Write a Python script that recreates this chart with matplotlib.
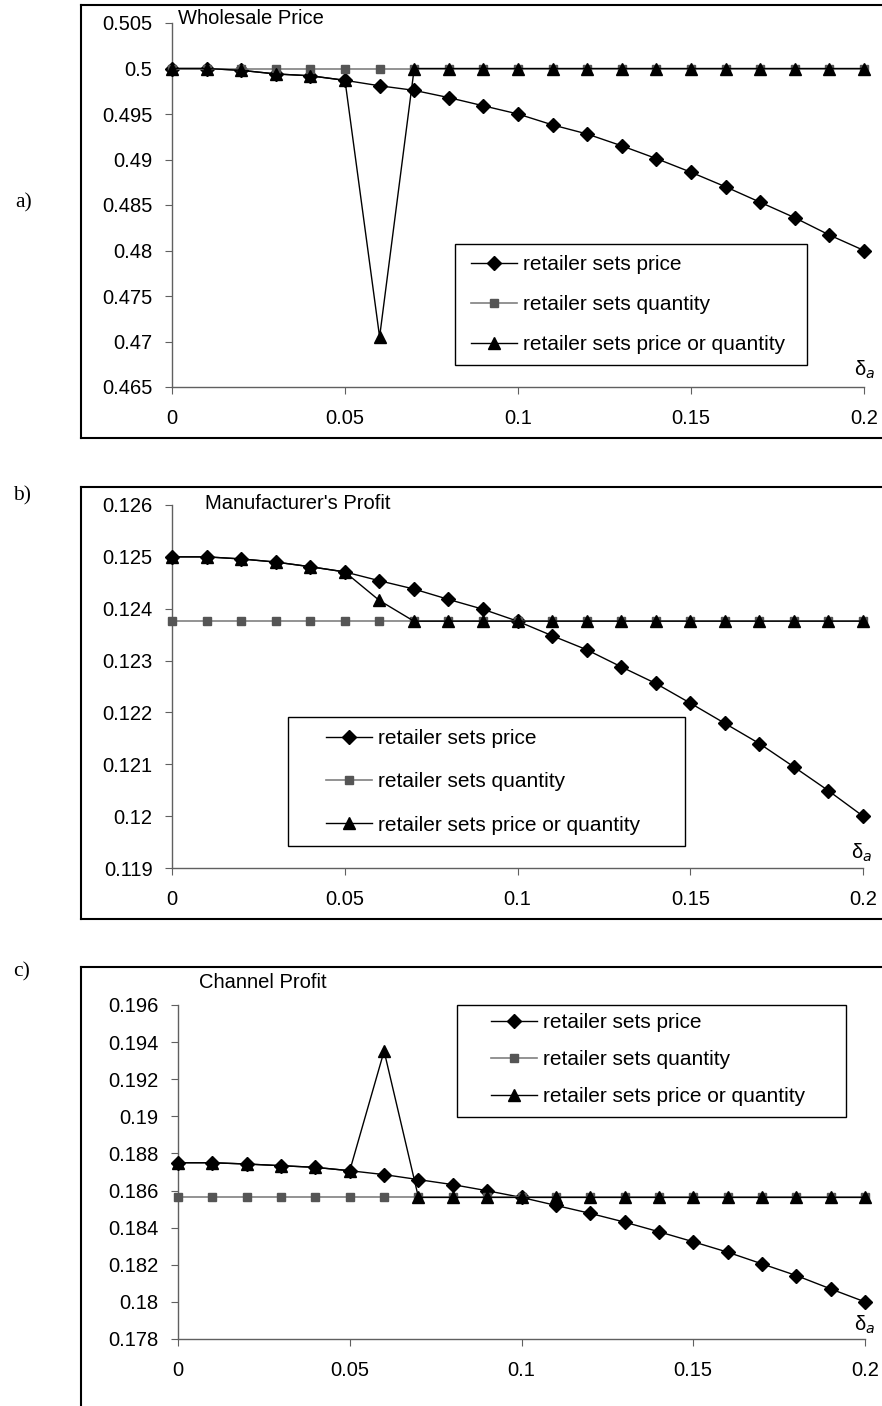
import matplotlib
matplotlib.use('Agg')
import matplotlib.pyplot as plt
from matplotlib.lines import Line2D
from matplotlib.patches import Rectangle

plt.rcParams['font.family'] = ['Liberation Sans', 'DejaVu Sans']

W, H = 882, 1406

# delta_a values on the horizontal axis
delta = [0.00, 0.01, 0.02, 0.03, 0.04, 0.05, 0.06, 0.07, 0.08, 0.09, 0.10,
         0.11, 0.12, 0.13, 0.14, 0.15, 0.16, 0.17, 0.18, 0.19, 0.20]

# a) wholesale price
wp_price = [0.5000, 0.5000, 0.4998, 0.4994, 0.4992, 0.4987, 0.4981, 0.4976, 0.4968, 0.4959, 0.4950,
            0.4938, 0.4928, 0.4915, 0.4901, 0.4886, 0.4870, 0.4853, 0.4836, 0.4817, 0.4800]
wp_quantity = [0.5, 0.5, 0.5, 0.5, 0.5, 0.5, 0.5, 0.5, 0.5, 0.5, 0.5,
               0.5, 0.5, 0.5, 0.5, 0.5, 0.5, 0.5, 0.5, 0.5, 0.5]
wp_either = [0.5000, 0.5000, 0.4998, 0.4994, 0.4992, 0.4987, 0.4705, 0.5, 0.5, 0.5, 0.5,
             0.5, 0.5, 0.5, 0.5, 0.5, 0.5, 0.5, 0.5, 0.5, 0.5]

# b) manufacturer's profit
mp_price = [0.12500, 0.12500, 0.12496, 0.12490, 0.12481, 0.12471, 0.12454, 0.12438, 0.12418, 0.12399, 0.12376,
            0.12348, 0.12321, 0.12288, 0.12256, 0.12218, 0.12179, 0.12140, 0.12095, 0.12049, 0.12000]
mp_quantity = [0.12376, 0.12376, 0.12376, 0.12376, 0.12376, 0.12376, 0.12376, 0.12376, 0.12376, 0.12376, 0.12376,
               0.12376, 0.12376, 0.12376, 0.12376, 0.12376, 0.12376, 0.12376, 0.12376, 0.12376, 0.12376]
mp_either = [0.12500, 0.12500, 0.12496, 0.12490, 0.12481, 0.12471, 0.12416, 0.12376, 0.12376, 0.12376, 0.12376,
             0.12376, 0.12376, 0.12376, 0.12376, 0.12376, 0.12376, 0.12376, 0.12376, 0.12376, 0.12376]

# c) channel profit
cp_price = [0.18750, 0.18750, 0.18743, 0.18734, 0.18725, 0.18707, 0.18686, 0.18659, 0.18632, 0.18599, 0.18563,
            0.18520, 0.18477, 0.18430, 0.18378, 0.18324, 0.18268, 0.18205, 0.18142, 0.18070, 0.18000]
cp_quantity = [0.18563, 0.18563, 0.18563, 0.18563, 0.18563, 0.18563, 0.18563, 0.18563, 0.18563, 0.18563, 0.18563,
               0.18563, 0.18563, 0.18563, 0.18563, 0.18563, 0.18563, 0.18563, 0.18563, 0.18563, 0.18563]
cp_either = [0.18750, 0.18750, 0.18743, 0.18734, 0.18725, 0.18707, 0.19352, 0.18563, 0.18563, 0.18563, 0.18563,
             0.18563, 0.18563, 0.18563, 0.18563, 0.18563, 0.18563, 0.18563, 0.18563, 0.18563, 0.18563]

series_names = ['retailer sets price', 'retailer sets quantity', 'retailer sets price or quantity']
x_ticks = [0, 0.05, 0.1, 0.15, 0.2]
x_labels = ['0', '0.05', '0.1', '0.15', '0.2']

a_ticks = [0.465, 0.47, 0.475, 0.48, 0.485, 0.49, 0.495, 0.5, 0.505]
a_labels = ['0.465', '0.47', '0.475', '0.48', '0.485', '0.49', '0.495', '0.5', '0.505']
b_ticks = [0.119, 0.12, 0.121, 0.122, 0.123, 0.124, 0.125, 0.126]
b_labels = ['0.119', '0.12', '0.121', '0.122', '0.123', '0.124', '0.125', '0.126']
c_ticks = [0.178, 0.18, 0.182, 0.184, 0.186, 0.188, 0.19, 0.192, 0.194, 0.196]
c_labels = ['0.178', '0.18', '0.182', '0.184', '0.186', '0.188', '0.19', '0.192', '0.194', '0.196']

FS = 14.5
LFS = 15
AXC = '#606060'

fig = plt.figure(figsize=(W / 100, H / 100), dpi=100)


def fx(px):
    return px / W


def fy(py):
    return 1 - py / H


def frame_box(top, bottom=None, left=81):
    # outer chart-area frame, runs off the right edge of the page
    kw = dict(transform=fig.transFigure, color='black', lw=1.5)
    fig.add_artist(Line2D([fx(left), 1.01], [fy(top), fy(top)], **kw))
    fig.add_artist(Line2D([fx(left), fx(left)], [fy(top), fy(bottom if bottom else H + 5)], **kw))
    if bottom:
        fig.add_artist(Line2D([fx(left), 1.01], [fy(bottom), fy(bottom)], **kw))


def panel(box, price, quantity, either, yticks, ylabels, title, title_xy, delta_xy, leg_box, leg_xy, leg_sp):
    x0, x1, yt, yb = box
    ax = fig.add_axes([fx(x0), fy(yb), fx(x1 - x0), (yb - yt) / H])
    ax.patch.set_alpha(0)
    ax.plot(delta, price, color='black', lw=1, marker='D', ms=6.8,
            label=series_names[0], clip_on=False, zorder=3)
    ax.plot(delta, quantity, color='#808080', lw=1.2, marker='s', ms=6,
            mfc='#555555', mec='#555555', label=series_names[1], clip_on=False, zorder=3)
    ax.plot(delta, either, color='black', lw=1, marker='^', ms=8.5,
            label=series_names[2], clip_on=False, zorder=4)
    ax.set_xlim(0, 0.2)
    ax.set_ylim(yticks[0], yticks[-1])
    ax.set_xticks(x_ticks)
    ax.set_xticklabels(x_labels)
    ax.set_yticks(yticks)
    ax.set_yticklabels(ylabels)
    for s in ['top', 'right']:
        ax.spines[s].set_visible(False)
    for s in ['left', 'bottom']:
        ax.spines[s].set_color(AXC)
        ax.spines[s].set_linewidth(1)
    ax.tick_params(axis='y', direction='out', length=5, pad=9, labelsize=FS, color=AXC)
    ax.tick_params(axis='x', direction='out', length=5, pad=11, labelsize=FS, color=AXC)

    fig.text(fx(title_xy[0]), fy(title_xy[1]), title, fontsize=FS, ha='left', va='center')
    fig.text(fx(delta_xy[0]), fy(delta_xy[1]), 'δ$_{a}$', fontsize=FS, ha='center', va='center')

    lx0, lx1, lyt, lyb = leg_box
    ax.add_patch(Rectangle((fx(lx0), fy(lyb)), fx(lx1 - lx0), (lyb - lyt) / H,
                           transform=fig.transFigure, facecolor='white', edgecolor='black',
                           lw=1, zorder=5, clip_on=False))
    leg = ax.legend(loc='upper left', bbox_to_anchor=(fx(leg_xy[0]), fy(leg_xy[1])),
                    bbox_transform=fig.transFigure, frameon=False, fontsize=LFS,
                    handlelength=2.2, handletextpad=0.3, labelspacing=leg_sp,
                    borderpad=0, borderaxespad=0)
    leg.set_zorder(6)
    return ax


frame_box(5, 438)
frame_box(487, 919)
frame_box(967)

panel((172, 864, 23, 387), wp_price, wp_quantity, wp_either, a_ticks, a_labels,
      'Wholesale Price', (178, 18), (865, 370), (455, 807, 244, 365), (471, 255), 1.02)
panel((172, 863, 505, 868), mp_price, mp_quantity, mp_either, b_ticks, b_labels,
      "Manufacturer's Profit", (205, 503), (862, 853), (288, 685, 717, 846), (326, 729), 1.17)
panel((178, 865, 1005, 1339), cp_price, cp_quantity, cp_either, c_ticks, c_labels,
      'Channel Profit', (199, 982), (865, 1325), (457, 846, 1005, 1117), (491, 1013), 0.86)

for lab, (px, py) in zip(['a)', 'b)', 'c)'], [(24, 203), (22, 496), (22, 972)]):
    fig.text(fx(px), fy(py), lab, fontsize=FS + 1, ha='center', va='center',
             family=['Liberation Serif', 'DejaVu Serif'])

fig.savefig('out.png', dpi=100)
